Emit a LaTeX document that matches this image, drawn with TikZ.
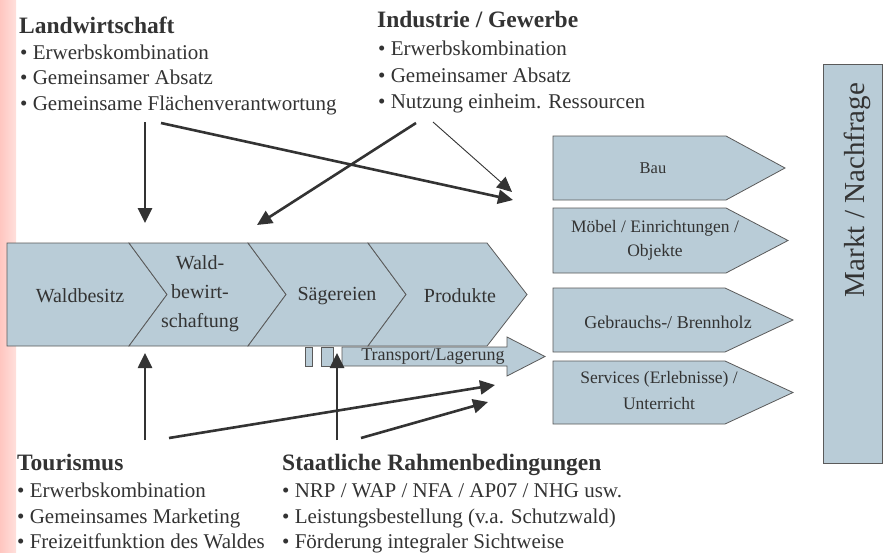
\documentclass[tikz,border=0pt]{standalone}
\usepackage{fontspec}
\setmainfont{Liberation Serif}
\usetikzlibrary{arrows.meta}
\definecolor{txt}{HTML}{333333}
\definecolor{boxfill}{HTML}{B9CCD7}
\definecolor{boxline}{HTML}{5A5A5A}
\definecolor{arr}{HTML}{333333}
\definecolor{pinkL}{HTML}{FFC6C0}
\definecolor{pinkR}{HTML}{FFE0DC}
\begin{document}
\begin{tikzpicture}[x=1pt,y=-1pt,
  box/.style={fill=boxfill, draw=boxline, line width=0.8pt, line join=miter},
  head/.style={anchor=base west, inner sep=0pt, text=txt, font=\fontsize{23.5}{26}\selectfont\bfseries},
  item/.style={anchor=base west, inner sep=0pt, text=txt, font=\fontsize{21}{24}\selectfont},
  chain/.style={text=txt, inner sep=0pt, font=\fontsize{20}{29}\selectfont, align=center},
  lab/.style={text=txt, inner sep=0pt, font=\fontsize{17.5}{24}\selectfont, align=center},
  flow/.style={draw=arr, line width=2.6pt, -{Triangle[length=15pt,width=14pt]}},
]
\useasboundingbox (0,0) rectangle (883,552);
\fill[white] (0,0) rectangle (883,552);
% pink strip
\shade[left color=pinkL, right color=pinkR] (0,0) rectangle (16,552);

% main chain
\path[box] (7,243) -- (129,243) -- (167,294.5) -- (129,346) -- (7,346) -- cycle;
\path[box] (129,243) -- (248,243) -- (286,294.5) -- (248,346) -- (129,346) -- (167,294.5) -- cycle;
\path[box] (248,243) -- (368,243) -- (406,294.5) -- (368,346) -- (248,346) -- (286,294.5) -- cycle;
\path[box] (368,243) -- (487,243) -- (527,294.5) -- (487,346) -- (368,346) -- (406,294.5) -- cycle;
\node[chain] (wb) at (80,296) {Waldbesitz};
\node[chain] (bw) at (200,294) {Wald-\\bewirt-\\schaftung};
\node[chain] (sg) at (337,296) {Sägereien};
\node[chain] (pr) at (460,296) {Produkte};

% transport
\path[box] (305,347) rectangle (312,366);
\path[box] (321,347) rectangle (333,366);
\path[box] (342,347) -- (507,347) -- (507,337) -- (545,356.5) -- (507,376) -- (507,366) -- (342,366) -- cycle;
\node[lab, font=\fontsize{18}{24}\selectfont] (tr) at (433,357) {Transport/Lagerung};

% product boxes
\path[box] (553,136) -- (726,136) -- (785,168) -- (726,200) -- (553,200) -- cycle;
\path[box] (553,208) -- (726,208) -- (788,240.5) -- (726,273) -- (553,273) -- cycle;
\path[box] (553,288) -- (725,288) -- (793,320) -- (725,352) -- (553,352) -- cycle;
\path[box] (553,361) -- (725,361) -- (793,392.5) -- (725,424) -- (553,424) -- cycle;
\node[lab, font=\fontsize{16.5}{20}\selectfont] (bau) at (653,168) {Bau};
\node[lab] (moe) at (655,240) {Möbel / Einrichtungen /\\Objekte};
\node[lab, font=\fontsize{18}{24}\selectfont] (geb) at (668,322) {Gebrauchs-/ Brennholz};
\node[lab, font=\fontsize{17.5}{26}\selectfont] (ser) at (659,391) {Services (Erlebnisse) /\\Unterricht};

% market
\path[box] (823,64) rectangle (882,463);
\node[text=txt, rotate=90, inner sep=0pt, font=\fontsize{29}{30}\selectfont] (mk) at (857,190) {Markt / Nachfrage};

% text blocks
\node[head] (lw) at (19,33) {Landwirtschaft};
\node[item] (lw1) at (20,59) {• Erwerbskombination};
\node[item] (lw2) at (20,84) {• Gemeinsamer Absatz};
\node[item] (lw3) at (20,110) {• Gemeinsame Flächenverantwortung};

\node[head] (ig) at (377,27) {Industrie / Gewerbe};
\node[item] (ig1) at (378,55) {• Erwerbskombination};
\node[item] (ig2) at (378,82) {• Gemeinsamer Absatz};
\node[item] (ig3) at (378,108) {• Nutzung einheim. Ressourcen};

\node[head] (to) at (17,470) {Tourismus};
\node[item] (to1) at (17,497) {• Erwerbskombination};
\node[item] (to2) at (17,523) {• Gemeinsames Marketing};
\node[item] (to3) at (17,548) {• Freizeitfunktion des Waldes};

\node[head] (st) at (282,470) {Staatliche Rahmenbedingungen};
\node[item] (st1) at (282,497) {• NRP / WAP / NFA / AP07 / NHG usw.};
\node[item] (st2) at (282,523) {• Leistungsbestellung (v.a. Schutzwald)};
\node[item] (st3) at (282,548) {• Förderung integraler Sichtweise};

% arrow end points
\coordinate (a1) at (145,122);  \coordinate (a2) at (145,223);
\coordinate (b1) at (161,123);  \coordinate (b2) at (513,200);
\coordinate (c1) at (416,123);  \coordinate (c2) at (257,225);
\coordinate (d1) at (433,122);  \coordinate (d2) at (512,192);
\coordinate (e1) at (145,440);  \coordinate (e2) at (145,353);
\coordinate (f1) at (169,438);  \coordinate (f2) at (495,385);
\coordinate (g1) at (337,440);  \coordinate (g2) at (337,353);
\coordinate (h1) at (361,438);  \coordinate (h2) at (488,402);

\draw[flow] (a1) -- (a2);
\draw[flow] (b1) -- (b2);
\draw[flow] (c1) -- (c2);
\draw[flow, line width=0.9pt] (d1) -- (d2);
\draw[flow] (e1) -- (e2);
\draw[flow] (f1) -- (f2);
\draw[flow] (g1) -- (g2);
\draw[flow] (h1) -- (h2);
\end{tikzpicture}
\end{document}
